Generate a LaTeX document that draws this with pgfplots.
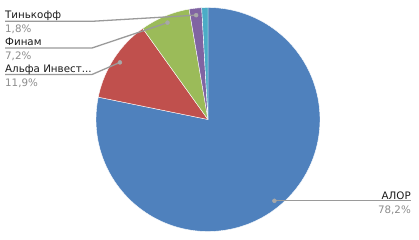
\documentclass[border=0pt]{standalone}
\usepackage{pgfplots}
\pgfplotsset{compat=1.18}
\usepackage{fontspec}
\setmainfont{DejaVu Sans}
\definecolor{pieblue}{HTML}{4F81BD}
\definecolor{piered}{HTML}{C0504D}
\definecolor{piegreen}{HTML}{9BBB59}
\definecolor{piepurple}{HTML}{8064A2}
\definecolor{pieaqua}{HTML}{4BACC6}
\definecolor{leader}{HTML}{9A9A9A}
\definecolor{dotc}{HTML}{A8A8A8}
\definecolor{pcttext}{HTML}{8C8C8C}
\definecolor{nametext}{HTML}{1A1A1A}
\tikzset{lbl/.style={font=\fontsize{10.3bp}{12bp}\selectfont, inner sep=0pt}}
% shares, percent
\def\vA{78.2}% АЛОР
\def\vB{11.9}% Альфа Инвест...
\def\vC{7.2}%  Финам
\def\vD{1.8}%  Тинькофф
\def\vE{0.9}%  other
\pgfmathsetmacro{\sA}{90}
\pgfmathsetmacro{\sB}{\sA-3.6*\vA}
\pgfmathsetmacro{\sC}{\sB-3.6*\vB}
\pgfmathsetmacro{\sD}{\sC-3.6*\vC}
\pgfmathsetmacro{\sE}{\sD-3.6*\vD}
\pgfmathsetmacro{\sF}{\sE-3.6*\vE}
\def\cx{208}\def\cy{119.5}\def\R{112}\def\Rd{105}
\pgfmathsetmacro{\mA}{(\sA+\sB)/2}
\pgfmathsetmacro{\mB}{(\sB+\sC)/2}
\pgfmathsetmacro{\mC}{(\sC+\sD)/2}
\pgfmathsetmacro{\mD}{(\sD+\sE)/2}
\pgfmathsetmacro{\dAx}{\cx+\Rd*cos(\mA)}\pgfmathsetmacro{\dAy}{\cy-\Rd*sin(\mA)}
\pgfmathsetmacro{\dBx}{\cx+\Rd*cos(\mB)}\pgfmathsetmacro{\dBy}{\cy-\Rd*sin(\mB)}
\pgfmathsetmacro{\dCx}{\cx+\Rd*cos(\mC)}\pgfmathsetmacro{\dCy}{\cy-\Rd*sin(\mC)}
\pgfmathsetmacro{\dDx}{\cx+\Rd*cos(\mD)}\pgfmathsetmacro{\dDy}{\cy-\Rd*sin(\mD)}
\begin{document}
\begin{tikzpicture}
\useasboundingbox (0,0) rectangle (419bp,240bp);
\begin{axis}[
  at={(0,0)}, anchor=south west,
  width=419bp, height=240bp, scale only axis,
  xmin=0, xmax=419, ymin=0, ymax=240, y dir=reverse,
  hide axis, clip=false,
  every axis plot/.append style={line join=round},
]
% slices
\addplot[fill=pieblue, draw=white, line width=0.4bp, domain=\sB:\sA, samples=150, variable=\t]
  ({\cx+\R*cos(t)},{\cy-\R*sin(t)}) -- (axis cs:\cx,\cy) -- cycle;
\addplot[fill=piered, draw=white, line width=0.4bp, domain=\sC:\sB, samples=40, variable=\t]
  ({\cx+\R*cos(t)},{\cy-\R*sin(t)}) -- (axis cs:\cx,\cy) -- cycle;
\addplot[fill=piegreen, draw=white, line width=0.4bp, domain=\sD:\sC, samples=30, variable=\t]
  ({\cx+\R*cos(t)},{\cy-\R*sin(t)}) -- (axis cs:\cx,\cy) -- cycle;
\addplot[fill=piepurple, draw=white, line width=0.4bp, domain=\sE:\sD, samples=10, variable=\t]
  ({\cx+\R*cos(t)},{\cy-\R*sin(t)}) -- (axis cs:\cx,\cy) -- cycle;
\addplot[fill=pieaqua, draw=white, line width=0.4bp, domain=\sF:\sE, samples=6, variable=\t]
  ({\cx+\R*cos(t)},{\cy-\R*sin(t)}) -- (axis cs:\cx,\cy) -- cycle;
% leader lines
\addplot[leader, line width=1.3bp, mark=none] coordinates {(\dAx,\dAy) (411,\dAy)};
\addplot[leader, line width=1.3bp, mark=none] coordinates {(5,74.5) (92,74.5) (\dBx,\dBy)};
\addplot[leader, line width=1.3bp, mark=none] coordinates {(5,48) (92,48) (\dCx,\dCy)};
\addplot[leader, line width=1.3bp, mark=none] coordinates {(5,21.3) (92,21.3) (\dDx,\dDy)};
% dots
\addplot[dotc, only marks, mark=*, mark size=2bp, mark options={fill=dotc, draw=dotc}]
  coordinates {(\dAx,\dAy) (\dBx,\dBy) (\dCx,\dCy) (\dDx,\dDy)};
% labels
\node[lbl, anchor=base east, text=nametext] at (axis cs:411,199.5) {АЛОР};
\node[lbl, anchor=base east, text=pcttext] at (axis cs:411,213) {78,2\%};
\node[lbl, anchor=base west, text=nametext] at (axis cs:5,72) {Альфа Инвест...};
\node[lbl, anchor=base west, text=pcttext] at (axis cs:5,86.5) {11,9\%};
\node[lbl, anchor=base west, text=nametext] at (axis cs:5,45.5) {Финам};
\node[lbl, anchor=base west, text=pcttext] at (axis cs:5,59) {7,2\%};
\node[lbl, anchor=base west, text=nametext] at (axis cs:5,18.7) {Тинькофф};
\node[lbl, anchor=base west, text=pcttext] at (axis cs:5,32) {1,8\%};
\end{axis}
\end{tikzpicture}
\end{document}
